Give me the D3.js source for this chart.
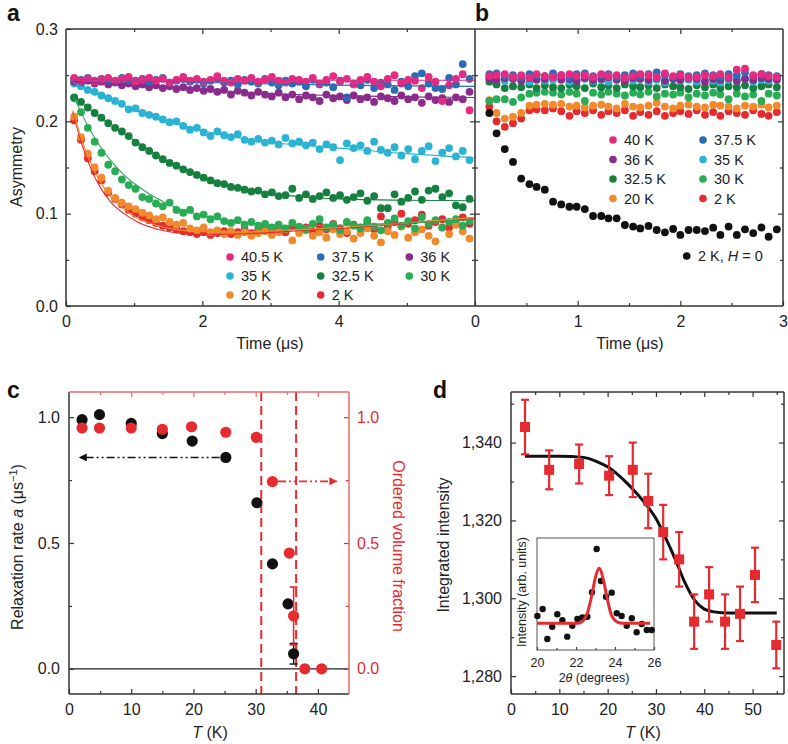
<!DOCTYPE html>
<html>
<head>
<meta charset="utf-8">
<script src="https://cdn.jsdelivr.net/npm/d3@7.9.0/dist/d3.min.js"></script>
<style>
  body { margin: 0; background: #fff; }
  svg { display: block; font-family: "Liberation Sans", Arial, sans-serif; }
</style>
</head>
<body>
<svg id="chart" width="788" height="744"></svg>
<script>
// ---------- panel a : asymmetry vs time, transverse field ----------
const timeA = [0.12,0.22,0.32,0.42,0.52,0.62,0.72,0.82,0.92,1.02,
  1.12,1.22,1.32,1.42,1.52,1.62,1.72,1.82,1.92,2.02,
  2.12,2.22,2.32,2.42,2.52,2.62,2.72,2.82,2.92,3.02,
  3.12,3.22,3.32,3.42,3.52,3.62,3.72,3.82,3.92,4.02,
  4.12,4.22,4.32,4.42,4.52,4.62,4.72,4.82,4.92,5.02,
  5.12,5.22,5.32,5.42,5.52,5.62,5.72,5.82,5.92];
const asymA_40p5 = [0.247,0.244,0.246,0.243,0.245,0.247,0.244,0.246,0.248,0.243,
  0.245,0.247,0.244,0.246,0.242,0.245,0.248,0.244,0.246,0.243,
  0.245,0.249,0.244,0.242,0.246,0.244,0.247,0.243,0.245,0.248,
  0.244,0.242,0.246,0.245,0.243,0.247,0.241,0.245,0.249,0.243,
  0.246,0.240,0.245,0.248,0.243,0.238,0.246,0.250,0.241,0.245,
  0.244,0.236,0.248,0.243,0.222,0.239,0.246,0.251,0.212];
const asymA_37p5 = [0.246,0.245,0.247,0.244,0.246,0.245,0.243,0.247,0.245,0.244,
  0.246,0.243,0.245,0.247,0.242,0.244,0.246,0.243,0.245,0.241,
  0.244,0.246,0.242,0.244,0.240,0.245,0.243,0.241,0.246,0.242,
  0.239,0.244,0.241,0.243,0.238,0.245,0.240,0.242,0.237,0.244,
  0.226,0.241,0.239,0.245,0.236,0.242,0.240,0.234,0.243,0.238,
  0.249,0.252,0.241,0.236,0.235,0.247,0.240,0.262,0.246];
const asymA_36 = [0.243,0.242,0.244,0.241,0.243,0.240,0.242,0.239,0.241,0.238,
  0.240,0.237,0.239,0.236,0.238,0.235,0.237,0.234,0.236,0.233,
  0.235,0.232,0.234,0.229,0.233,0.231,0.228,0.232,0.229,0.227,
  0.231,0.226,0.229,0.224,0.228,0.226,0.222,0.229,0.225,0.227,
  0.223,0.228,0.224,0.226,0.221,0.227,0.225,0.222,0.228,0.224,
  0.226,0.220,0.227,0.223,0.225,0.221,0.226,0.224,0.232];
const asymA_35 = [0.241,0.238,0.234,0.232,0.228,0.225,0.222,0.219,0.213,0.214,
  0.209,0.207,0.205,0.202,0.199,0.200,0.195,0.191,0.193,0.188,
  0.184,0.189,0.185,0.183,0.186,0.180,0.178,0.181,0.177,0.179,
  0.175,0.182,0.176,0.178,0.174,0.177,0.170,0.175,0.172,0.158,
  0.176,0.171,0.174,0.168,0.178,0.169,0.166,0.172,0.163,0.170,
  0.159,0.168,0.173,0.157,0.166,0.171,0.162,0.168,0.158];
const asymA_32p5 = [0.226,0.221,0.215,0.209,0.204,0.198,0.193,0.189,0.184,0.177,
  0.172,0.168,0.163,0.159,0.155,0.152,0.148,0.145,0.142,0.139,
  0.136,0.133,0.132,0.129,0.128,0.126,0.124,0.125,0.121,0.123,
  0.119,0.120,0.127,0.117,0.121,0.116,0.119,0.123,0.117,0.120,
  0.115,0.118,0.122,0.114,0.119,0.106,0.106,0.121,0.113,0.117,
  0.124,0.115,0.125,0.127,0.118,0.122,0.109,0.107,0.116];
const asymA_30 = [0.225,0.210,0.193,0.178,0.166,0.153,0.146,0.137,0.131,0.127,
  0.118,0.116,0.111,0.108,0.112,0.104,0.101,0.104,0.097,0.099,
  0.094,0.097,0.092,0.090,0.093,0.088,0.091,0.087,0.089,0.085,
  0.088,0.084,0.090,0.086,0.083,0.089,0.094,0.085,0.088,0.082,
  0.091,0.087,0.084,0.093,0.086,0.082,0.090,0.095,0.087,0.092,
  0.084,0.096,0.089,0.093,0.085,0.091,0.094,0.087,0.092];
const asymA_20 = [0.205,0.183,0.165,0.150,0.139,0.125,0.117,0.112,0.108,0.105,
  0.101,0.098,0.094,0.096,0.091,0.088,0.090,0.084,0.082,0.085,
  0.080,0.082,0.078,0.081,0.077,0.080,0.076,0.079,0.081,0.077,
  0.080,0.083,0.071,0.079,0.082,0.076,0.080,0.074,0.083,0.078,
  0.081,0.073,0.079,0.084,0.076,0.069,0.081,0.077,0.086,0.074,
  0.080,0.083,0.076,0.070,0.085,0.078,0.088,0.081,0.073];
const asymA_2 = [0.201,0.180,0.160,0.146,0.136,0.123,0.116,0.110,0.104,0.100,
  0.096,0.093,0.090,0.087,0.085,0.083,0.081,0.080,0.078,0.080,
  0.077,0.079,0.081,0.078,0.080,0.083,0.079,0.082,0.085,0.081,
  0.084,0.080,0.086,0.082,0.085,0.081,0.087,0.083,0.089,0.084,
  0.079,0.088,0.085,0.090,0.083,0.097,0.086,0.091,0.100,0.089,
  0.093,0.099,0.087,0.091,0.094,0.085,0.092,0.096,0.089];

// fitted curves, read at these times
const fitTimeA = [0.1,0.2,0.3,0.4,0.5,0.65,0.85,1.05,1.3,1.6,2.0,2.5,3.0,3.5,4.0,5.0,6.0];
const fitA_40p5 = [0.2445,0.2445,0.2445,0.2445,0.2445,0.2445,0.2445,0.2445,0.2445,0.2445,0.2445,0.2445,0.2445,0.2445,0.2445,0.2445,0.2445];
const fitA_37p5 = [0.245,0.245,0.245,0.2448,0.2446,0.2444,0.2441,0.2438,0.2434,0.2428,0.2421,0.2413,0.2405,0.2398,0.2392,0.2384,0.2379];
const fitA_36 = [0.2430,0.2427,0.2423,0.2419,0.2415,0.2408,0.2398,0.2388,0.2375,0.2360,0.2342,0.2320,0.2302,0.2288,0.2278,0.2265,0.2258];
const fitA_35 = [0.242,0.239,0.2355,0.232,0.229,0.224,0.217,0.211,0.205,0.198,0.190,0.1825,0.177,0.174,0.171,0.165,0.1605];
const fitA_32p5 = [0.228,0.222,0.216,0.210,0.204,0.197,0.187,0.177,0.165,0.153,0.140,0.129,0.122,0.118,0.116,0.1145,0.114];
const fitA_30 = [0.229,0.213,0.198,0.185,0.173,0.158,0.142,0.130,0.118,0.107,0.098,0.091,0.088,0.087,0.0875,0.090,0.094];
const fitA_20 = [0.212,0.187,0.166,0.149,0.135,0.119,0.105,0.095,0.088,0.083,0.0805,0.080,0.0815,0.083,0.085,0.090,0.096];
const fitA_2 = [0.210,0.183,0.161,0.143,0.129,0.113,0.100,0.091,0.084,0.0795,0.0775,0.078,0.0795,0.082,0.084,0.089,0.095];

const labelsA = ["40.5 K","37.5 K","36 K","35 K","32.5 K","30 K","20 K","2 K"];
const colorsT = ["#e52a81","#2b6db5","#8a2c8c","#2ab3d3","#168040","#28ac55","#f08a2c","#e52b30"];

// ---------- panel b : zero field ----------
const timeB = [0.14,0.21,0.29,0.37,0.45,0.53,0.60,0.68,0.76,0.84,
  0.92,0.99,1.07,1.15,1.23,1.30,1.38,1.46,1.54,1.61,
  1.69,1.77,1.85,1.93,2.00,2.08,2.16,2.24,2.32,2.39,
  2.47,2.55,2.63,2.71,2.79,2.86,2.94];
const asymB_40 = [0.249,0.250,0.251,0.248,0.250,0.247,0.251,0.249,0.248,0.250,
  0.251,0.249,0.250,0.248,0.251,0.249,0.250,0.247,0.249,0.251,
  0.250,0.248,0.252,0.249,0.250,0.247,0.248,0.250,0.249,0.251,
  0.248,0.256,0.257,0.250,0.251,0.249,0.248];
const asymB_37p5 = [0.251,0.252,0.249,0.250,0.248,0.251,0.250,0.249,0.252,0.250,
  0.248,0.251,0.252,0.249,0.250,0.251,0.248,0.250,0.252,0.249,
  0.251,0.253,0.250,0.248,0.251,0.249,0.250,0.252,0.250,0.248,
  0.251,0.250,0.253,0.249,0.251,0.250,0.249];
const asymB_36 = [0.246,0.245,0.247,0.246,0.244,0.247,0.245,0.246,0.248,0.245,
  0.246,0.244,0.247,0.245,0.246,0.248,0.245,0.244,0.247,0.246,
  0.245,0.247,0.244,0.246,0.245,0.247,0.246,0.243,0.246,0.245,
  0.247,0.244,0.246,0.245,0.247,0.246,0.245];
const asymB_35 = [0.247,0.245,0.244,0.246,0.245,0.243,0.246,0.244,0.245,0.247,
  0.243,0.245,0.246,0.244,0.245,0.243,0.246,0.245,0.244,0.246,
  0.243,0.245,0.242,0.246,0.244,0.245,0.243,0.246,0.244,0.242,
  0.245,0.244,0.246,0.243,0.245,0.244,0.246];
const asymB_32p5 = [0.243,0.240,0.236,0.238,0.237,0.240,0.236,0.239,0.237,0.236,
  0.240,0.238,0.236,0.241,0.237,0.239,0.236,0.240,0.238,0.237,
  0.239,0.236,0.240,0.238,0.237,0.235,0.239,0.237,0.240,0.236,
  0.238,0.237,0.239,0.236,0.238,0.240,0.237];
const asymB_30 = [0.222,0.224,0.224,0.221,0.226,0.230,0.231,0.232,0.231,0.229,
  0.232,0.230,0.222,0.231,0.229,0.232,0.230,0.228,0.231,0.229,
  0.232,0.227,0.230,0.229,0.231,0.226,0.230,0.228,0.231,0.229,
  0.224,0.230,0.227,0.229,0.222,0.230,0.228];
const asymB_20 = [0.223,0.209,0.203,0.205,0.209,0.217,0.218,0.219,0.218,0.219,
  0.216,0.217,0.215,0.217,0.218,0.216,0.214,0.219,0.216,0.215,
  0.217,0.220,0.216,0.214,0.217,0.218,0.216,0.215,0.218,0.217,
  0.216,0.214,0.217,0.216,0.218,0.215,0.217];
const asymB_2 = [0.216,0.200,0.194,0.198,0.203,0.212,0.213,0.212,0.214,0.211,
  0.206,0.211,0.209,0.212,0.207,0.211,0.209,0.212,0.206,0.210,
  0.207,0.211,0.206,0.209,0.211,0.208,0.212,0.207,0.210,0.206,
  0.211,0.209,0.207,0.212,0.208,0.206,0.210];
const asymB_2K_H0 = [0.209,0.187,0.170,0.156,0.138,0.132,0.129,0.126,0.113,0.110,
  0.1075,0.1075,0.105,0.0975,0.0975,0.095,0.095,0.0877,0.086,0.084,
  0.0867,0.0823,0.0798,0.0834,0.077,0.0823,0.0823,0.0812,0.0848,0.077,
  0.086,0.077,0.083,0.079,0.085,0.075,0.083];
const labelsB = ["40 K","37.5 K","36 K","35 K","32.5 K","30 K","20 K","2 K"];

// ---------- panel c ----------
const tempRate = [2.1,4.9,10,15,19.8,25.2,30.2,32.7,35.2,36.1];
const rate = [0.99,1.01,0.975,0.935,0.905,0.84,0.66,0.417,0.258,0.06];
const rateErr = [0,0,0,0,0,0,0,0,0,0.041];
const tempFrac = [2.1,4.9,10,15,19.7,25.2,30.1,32.7,35.4,36.1,37.9,40.6];
const frac = [0.957,0.957,0.957,0.952,0.962,0.94,0.92,0.744,0.46,0.21,0,0];
const fracErr = [0,0,0,0,0,0,0,0,0,0.115,0,0];
const transitionT = [30.9, 36.5];

// ---------- panel d ----------
const tempD = [2.9,7.9,14.1,20.3,25.2,28.4,31.5,34.8,37.9,41.0,44.3,47.4,50.5,54.9];
const intensityD = [1344,1333,1334.5,1331.5,1333,1325,1317,1310,1294,1301,1294,1296,1306,1288];
const errD = [7,5,5,5,7,7,7,7,7,7,7,7,7,6];
const fitTempD = [2.9,10,15,18,20,22,24,26,28,30,32,34,36,38,40,42,45,55];
const fitIntD = [1336.5,1336.5,1336.2,1335,1333.8,1331.9,1329.6,1327,1324,1320.5,1315.5,1310,1304,1299.5,1297.2,1296.5,1296.2,1296.2];

// inset
const twoTheta = [20.02,20.29,20.53,20.78,21.04,21.30,21.55,21.81,22.07,22.32,22.58,22.82,
  23.06,23.28,23.54,23.83,24.09,24.34,24.60,24.86,25.11,25.37,25.63,25.88];
const insetInt = [30.4,36.6,9.8,20.8,31.9,26.5,11.9,21.7,27.7,29.0,29.7,51.5,
  90.2,61.6,47.6,51.2,32.8,30.4,21.7,28.3,15.8,23.2,17.9,17.9];
const insetFitX = [20.0,22.0,22.2,22.4,22.6,22.8,23.0,23.18,23.4,23.6,23.8,24.0,24.2,24.5,25.8];
const insetFitY = [23.8,23.8,24.3,26.8,34,48,65,72.9,63,46,32,26.5,24.4,23.8,23.8];

const RED = "#e52b30";
const INK = "#222";

const svg = d3.select("#chart");

// helper: inward ticks with optional labels
function axis(gen, scale, x, y, values, size, opts = {}) {
  const a = gen(scale).tickValues(values).tickSize(size)
    .tickPadding(opts.pad || 0)
    .tickFormat(opts.fmt || (() => ""));
  const g = svg.append("g").attr("transform", `translate(${x},${y})`).call(a);
  g.select(".domain").remove();
  g.attr("font-family", null).attr("font-size", opts.fs || 16);
  g.selectAll("line").attr("stroke", opts.color || "#333").attr("stroke-width", 1.2);
  g.selectAll("text").attr("fill", opts.color || INK);
  return g;
}
function frameLine(x1, y1, x2, y2, color) {
  svg.append("line").attr("x1", x1).attr("y1", y1).attr("x2", x2).attr("y2", y2)
    .attr("stroke", color || "#333").attr("stroke-width", 1.5);
}
function panelLabel(t, x, y) {
  svg.append("text").attr("x", x).attr("y", y).attr("font-size", 23)
    .attr("font-weight", "bold").attr("fill", "#111").text(t);
}
const f1 = d3.format(".1f");

// ================= panel a =================
const xA = d3.scaleLinear().domain([0, 6]).range([66, 475]);
const yA = d3.scaleLinear().domain([0, 0.3]).range([306, 29]);
const xB = d3.scaleLinear().domain([0, 3]).range([475, 783]);

svg.append("clipPath").attr("id", "clipA").append("rect")
  .attr("x", 66).attr("y", 29).attr("width", 409).attr("height", 277);
svg.append("clipPath").attr("id", "clipB").append("rect")
  .attr("x", 475).attr("y", 29).attr("width", 308).attr("height", 277);

const seriesA = [
  { values: asymA_40p5, fit: fitA_40p5 }, { values: asymA_37p5, fit: fitA_37p5 },
  { values: asymA_36, fit: fitA_36 }, { values: asymA_35, fit: fitA_35 },
  { values: asymA_32p5, fit: fitA_32p5 }, { values: asymA_30, fit: fitA_30 },
  { values: asymA_20, fit: fitA_20 }, { values: asymA_2, fit: fitA_2 }
].map((s, i) => ({ ...s, label: labelsA[i], color: colorsT[i] }));

const gA = svg.append("g").attr("clip-path", "url(#clipA)");
seriesA.slice().reverse().forEach(s => {
  gA.append("g").selectAll("circle")
    .data(timeA.map((t, i) => [t, s.values[i]]))
    .join("circle")
    .attr("cx", d => xA(d[0])).attr("cy", d => yA(d[1]))
    .attr("r", 3.9).attr("fill", s.color);
});
const lineA = d3.line().x(d => xA(d[0])).y(d => yA(d[1])).curve(d3.curveMonotoneX);
seriesA.slice().reverse().forEach(s => {
  gA.append("path").datum(fitTimeA.map((t, i) => [t, s.fit[i]]))
    .attr("d", lineA).attr("fill", "none").attr("stroke", s.color).attr("stroke-width", 1.1);
});

// panel a axes
axis(d3.axisBottom, xA, 0, 306, [0, 2, 4], -5, { pad: 10, fmt: d3.format("d") });
axis(d3.axisBottom, xA, 0, 306, [1, 3, 5], -3);
axis(d3.axisTop, xA, 0, 29, [2, 4], -5);
axis(d3.axisTop, xA, 0, 29, [1, 3, 5], -3);
axis(d3.axisLeft, yA, 66, 0, [0, 0.1, 0.2, 0.3], -5, { pad: 8, fmt: f1 });
axis(d3.axisLeft, yA, 66, 0, [0.05, 0.15, 0.25], -3);
axis(d3.axisRight, yA, 475, 0, [0.1, 0.2], -5);
axis(d3.axisRight, yA, 475, 0, [0.05, 0.15, 0.25], -3);
frameLine(66, 29, 475, 29); frameLine(66, 306, 475, 306);
frameLine(66, 29, 66, 306); frameLine(475, 29, 475, 306);

// ================= panel b =================
const seriesB = [asymB_40, asymB_37p5, asymB_36, asymB_35, asymB_32p5, asymB_30, asymB_20, asymB_2]
  .map((v, i) => ({ values: v, label: labelsB[i], color: colorsT[i] }));
seriesB.push({ values: asymB_2K_H0, label: "2 K, H = 0", color: "#111" });
const gB = svg.append("g").attr("clip-path", "url(#clipB)");
[7, 6, 5, 4, 3, 2, 1, 0, 8].forEach(k => {
  const s = seriesB[k];
  gB.append("g").selectAll("circle")
    .data(timeB.map((t, i) => [t, s.values[i]]))
    .join("circle")
    .attr("cx", d => xB(d[0])).attr("cy", d => yA(d[1]))
    .attr("r", 3.9).attr("fill", s.color);
});
axis(d3.axisBottom, xB, 0, 306, [0, 1, 2, 3], -5, { pad: 10, fmt: d3.format("d") });
axis(d3.axisBottom, xB, 0, 306, [0.5, 1.5, 2.5], -3);
axis(d3.axisTop, xB, 0, 29, [1, 2], -5);
axis(d3.axisTop, xB, 0, 29, [0.5, 1.5, 2.5], -3);
axis(d3.axisLeft, yA, 475, 0, [0.1, 0.2], -5);
axis(d3.axisLeft, yA, 475, 0, [0.05, 0.15, 0.25], -3);
axis(d3.axisRight, yA, 783, 0, [0.1, 0.2], -5);
axis(d3.axisRight, yA, 783, 0, [0.05, 0.15, 0.25], -3);
frameLine(475, 29, 783, 29); frameLine(475, 306, 783, 306); frameLine(783, 29, 783, 306);

// legends a and b
function legendItem(cx, cy, color, label) {
  svg.append("circle").attr("cx", cx).attr("cy", cy).attr("r", 3.8).attr("fill", color);
  svg.append("text").attr("x", cx + 11).attr("y", cy + 5).attr("font-size", 14.5)
    .attr("fill", INK).text(label);
}
const legAcols = [230, 320.7, 409.3], legArows = [257, 276, 295];
seriesA.forEach((s, i) => legendItem(legAcols[i % 3], legArows[Math.floor(i / 3)], s.color, s.label));
const legBcols = [613, 703], legBrows = [140, 159.5, 179, 198.5];
seriesB.slice(0, 8).forEach((s, i) => legendItem(legBcols[i % 2], legBrows[Math.floor(i / 2)], s.color, s.label));
svg.append("circle").attr("cx", 686.7).attr("cy", 256).attr("r", 3.8).attr("fill", "#111");
const lz = svg.append("text").attr("x", 698).attr("y", 261).attr("font-size", 14.5).attr("fill", INK);
lz.append("tspan").text("2 K, ");
lz.append("tspan").attr("font-style", "italic").text("H");
lz.append("tspan").text(" = 0");

// axis titles a, b
svg.append("text").attr("transform", "translate(22,167) rotate(-90)").attr("text-anchor", "middle")
  .attr("font-size", 16).attr("fill", INK).text("Asymmetry");
svg.append("text").attr("x", 270).attr("y", 349).attr("text-anchor", "middle")
  .attr("font-size", 16).attr("fill", INK).text("Time (μs)");
svg.append("text").attr("x", 630).attr("y", 349).attr("text-anchor", "middle")
  .attr("font-size", 16).attr("fill", INK).text("Time (μs)");
panelLabel("a", 7, 21);
panelLabel("b", 475, 21);

// ================= panel c =================
const xC = d3.scaleLinear().domain([0, 45]).range([69, 349]);
const yC = d3.scaleLinear().domain([-0.1, 1.1]).range([694, 392]);

svg.append("line").attr("x1", 69).attr("x2", 349).attr("y1", yC(0)).attr("y2", yC(0))
  .attr("stroke", "#222").attr("stroke-width", 1.3);
transitionT.forEach(t => {
  svg.append("line").attr("x1", xC(t)).attr("x2", xC(t)).attr("y1", 392).attr("y2", 694)
    .attr("stroke", RED).attr("stroke-width", 2).attr("stroke-dasharray", "9,5");
});

// arrows
const defs = svg.append("defs");
[["arrK", "#111"], ["arrR", RED]].forEach(([id, c]) => {
  defs.append("marker").attr("id", id).attr("viewBox", "0 0 10 10").attr("refX", 9).attr("refY", 5)
    .attr("markerWidth", 11).attr("markerHeight", 8).attr("markerUnits", "userSpaceOnUse")
    .attr("orient", "auto").append("path").attr("d", "M0,0L10,5L0,10Z").attr("fill", c);
});
const arrowsC = [
  { from: 24.2, to: 1.7, y: 0.84, color: "#111", marker: "arrK" },
  { from: 33.6, to: 43.0, y: 0.745, color: RED, marker: "arrR" }
];
arrowsC.forEach(a => {
  svg.append("line").attr("x1", xC(a.from)).attr("x2", xC(a.to)).attr("y1", yC(a.y)).attr("y2", yC(a.y))
    .attr("stroke", a.color).attr("stroke-width", 1.6).attr("stroke-dasharray", "8,3,2,3,2,3")
    .attr("marker-end", `url(#${a.marker})`);
});

// error bars + points
function errBar(x, yLo, yHi, color, w) {
  svg.append("line").attr("x1", x).attr("x2", x).attr("y1", yLo).attr("y2", yHi)
    .attr("stroke", color).attr("stroke-width", w);
  [yLo, yHi].forEach(yy => svg.append("line").attr("x1", x - 4).attr("x2", x + 4)
    .attr("y1", yy).attr("y2", yy).attr("stroke", color).attr("stroke-width", w));
}
tempRate.forEach((t, i) => { if (rateErr[i] > 0) errBar(xC(t), yC(rate[i] - rateErr[i]), yC(rate[i] + rateErr[i]), "#111", 1.4); });
svg.append("g").selectAll("circle").data(tempRate.map((t, i) => [t, rate[i]])).join("circle")
  .attr("cx", d => xC(d[0])).attr("cy", d => yC(d[1])).attr("r", 5.6).attr("fill", "#111");
tempFrac.forEach((t, i) => { if (fracErr[i] > 0) errBar(xC(t), yC(frac[i] - fracErr[i]), yC(frac[i] + fracErr[i]), RED, 1.6); });
svg.append("g").selectAll("circle").data(tempFrac.map((t, i) => [t, frac[i]])).join("circle")
  .attr("cx", d => xC(d[0])).attr("cy", d => yC(d[1])).attr("r", 5.6).attr("fill", RED);

axis(d3.axisBottom, xC, 0, 694, [0, 10, 20, 30, 40], -5, { pad: 10, fmt: d3.format("d") });
axis(d3.axisBottom, xC, 0, 694, [5, 15, 25, 35], -3);
axis(d3.axisTop, xC, 0, 392, [10, 20, 30, 40], -5, { color: "#e86a6a" });
axis(d3.axisTop, xC, 0, 392, [5, 15, 25, 35], -3, { color: "#e86a6a" });
axis(d3.axisLeft, yC, 69, 0, [0, 0.5, 1.0], -5, { pad: 9, fmt: f1 });
axis(d3.axisLeft, yC, 69, 0, [0.25, 0.75], -3);
axis(d3.axisRight, yC, 349, 0, [0, 0.5, 1.0], -5, { pad: 8, fmt: f1, color: RED });
axis(d3.axisRight, yC, 349, 0, [0.25, 0.75], -3, { color: RED });
frameLine(69, 392, 69, 694, "#333"); frameLine(69, 694, 349, 694, "#333");
frameLine(69, 392, 349, 392, "#e86a6a"); frameLine(349, 392, 349, 694, "#e86a6a");

const yTitleC = svg.append("text").attr("transform", "translate(23,547) rotate(-90)")
  .attr("text-anchor", "middle").attr("font-size", 16).attr("fill", INK);
yTitleC.append("tspan").text("Relaxation rate ");
yTitleC.append("tspan").attr("font-style", "italic").text("a");
yTitleC.append("tspan").text(" (μs");
yTitleC.append("tspan").attr("font-size", 11).attr("dy", -6).text("−1");
yTitleC.append("tspan").attr("dy", 6).text(")");
svg.append("text").attr("transform", "translate(393,546) rotate(90)")
  .attr("text-anchor", "middle").attr("font-size", 16).attr("fill", RED).text("Ordered volume fraction");
function tTitle(cx) {
  const t = svg.append("text").attr("x", cx).attr("y", 738).attr("text-anchor", "middle")
    .attr("font-size", 16).attr("fill", INK);
  t.append("tspan").attr("font-style", "italic").text("T");
  t.append("tspan").text(" (K)");
}
tTitle(210);
panelLabel("c", 7, 398);

// ================= panel d =================
const xD = d3.scaleLinear().domain([0, 56.5]).range([511, 784]);
const yD = d3.scaleLinear().domain([1275.4, 1353]).range([694, 392]);

svg.append("path").datum(fitTempD.map((t, i) => [t, fitIntD[i]]))
  .attr("d", d3.line().x(d => xD(d[0])).y(d => yD(d[1])).curve(d3.curveMonotoneX))
  .attr("fill", "none").attr("stroke", "#111").attr("stroke-width", 3);
tempD.forEach((t, i) => errBar(xD(t), yD(intensityD[i] - errD[i]), yD(intensityD[i] + errD[i]), RED, 2.2));
svg.append("g").selectAll("rect").data(tempD.map((t, i) => [t, intensityD[i]])).join("rect")
  .attr("x", d => xD(d[0]) - 5).attr("y", d => yD(d[1]) - 5).attr("width", 10).attr("height", 10)
  .attr("fill", RED);

axis(d3.axisBottom, xD, 0, 694, [0, 10, 20, 30, 40, 50], -5, { pad: 10, fmt: d3.format("d") });
axis(d3.axisBottom, xD, 0, 694, [5, 15, 25, 35, 45, 55], -3);
axis(d3.axisTop, xD, 0, 392, [10, 20, 30, 40, 50], -5);
axis(d3.axisTop, xD, 0, 392, [5, 15, 25, 35, 45, 55], -3);
axis(d3.axisLeft, yD, 511, 0, [1280, 1300, 1320, 1340], -5, { pad: 9, fmt: d3.format(",") });
axis(d3.axisLeft, yD, 511, 0, [1290, 1310, 1330, 1350], -3);
axis(d3.axisRight, yD, 784, 0, [1280, 1300, 1320, 1340], -5);
axis(d3.axisRight, yD, 784, 0, [1290, 1310, 1330, 1350], -3);
frameLine(511, 392, 784, 392); frameLine(511, 694, 784, 694);
frameLine(511, 392, 511, 694); frameLine(784, 392, 784, 694);

svg.append("text").attr("transform", "translate(449,545) rotate(-90)")
  .attr("text-anchor", "middle").attr("font-size", 16).attr("fill", INK).text("Integrated intensity");
tTitle(643);
panelLabel("d", 433, 398);

// inset
const xI = d3.scaleLinear().domain([20, 26]).range([537, 654]);
const yI = d3.scaleLinear().domain([0, 100]).range([650, 538]);
svg.append("rect").attr("x", 537).attr("y", 538).attr("width", 117).attr("height", 112)
  .attr("fill", "#fff").attr("stroke", "#555").attr("stroke-width", 1);
svg.append("g").selectAll("circle").data(twoTheta.map((t, i) => [t, insetInt[i]])).join("circle")
  .attr("cx", d => xI(d[0])).attr("cy", d => yI(d[1])).attr("r", 3.2).attr("fill", "#111");
svg.append("path").datum(insetFitX.map((t, i) => [t, insetFitY[i]]))
  .attr("d", d3.line().x(d => xI(d[0])).y(d => yI(d[1])).curve(d3.curveMonotoneX))
  .attr("fill", "none").attr("stroke", RED).attr("stroke-width", 3);
axis(d3.axisBottom, xI, 0, 650, [20, 22, 24, 26], -3, { pad: 8, fmt: d3.format("d"), fs: 12.5, color: "#444" })
  .selectAll("text").attr("fill", INK);
axis(d3.axisBottom, xI, 0, 650, [21, 23, 25], -2, { color: "#444" });
svg.append("text").attr("transform", "translate(526,592) rotate(-90)")
  .attr("text-anchor", "middle").attr("font-size", 12.5).attr("fill", INK).text("Intensity (arb. units)");
const it = svg.append("text").attr("x", 594).attr("y", 682).attr("text-anchor", "middle")
  .attr("font-size", 12.5).attr("fill", INK);
it.append("tspan").text("2");
it.append("tspan").attr("font-style", "italic").text("θ");
it.append("tspan").text(" (degrees)");
</script>
</body>
</html>
